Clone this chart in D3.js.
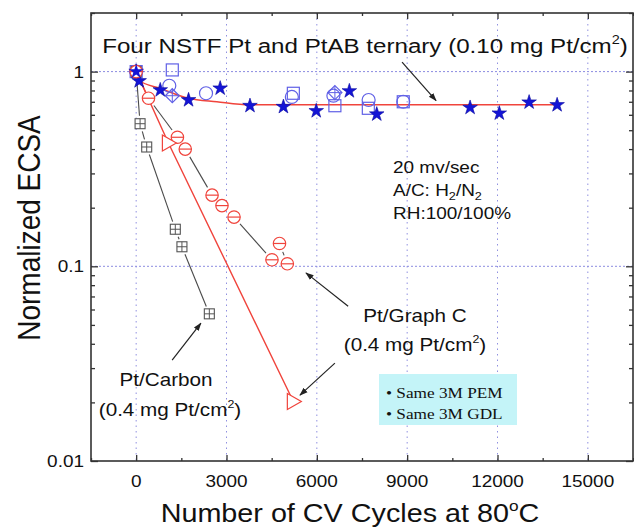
<!DOCTYPE html>
<html><head><meta charset="utf-8">
<script src="https://cdn.jsdelivr.net/npm/d3@7"></script>
<style>body{margin:0;background:#fff} svg{display:block}</style>
</head><body><svg id="c" width="634" height="529"></svg>
<script>
// ---------- data ----------
const xTicks = [0, 3000, 6000, 9000, 12000, 15000];
const xMinorTicks = [-1500, 1500, 4500, 7500, 10500, 13500, 16500];
const yTicks = [0.01, 0.1, 1];
const yTickLabels = ["0.01", "0.1", "1"];

// Pt/Carbon (0.4 mg Pt/cm2)
const carbonX = [0, 130, 350, 1300, 1520, 2430];
const carbonY = [1, 0.54, 0.41, 0.155, 0.126, 0.057];

// Pt/Graph C (0.4 mg Pt/cm2) - circles
const graphX = [0, 410, 1370, 1630, 2520, 2850, 3250, 4510, 4760, 5020];
const graphY = [1, 0.73, 0.46, 0.40, 0.232, 0.205, 0.179, 0.108, 0.131, 0.103];

// Pt/Graph C - triangles
const triX = [0, 1070, 5220];
const triY = [1, 0.43, 0.0202];

// NSTF series
const starX = [0, 100, 800, 1740, 2790, 3780, 4890, 5980, 7080, 7990, 11090, 12060, 13050, 13980];
const starY = [1.0, 0.895, 0.804, 0.715, 0.821, 0.668, 0.660, 0.628, 0.795, 0.604, 0.653, 0.611, 0.696, 0.674];
const sqX = [0, 1200, 5220, 6600, 7710, 8870];
const sqY = [1, 1.02, 0.774, 0.668, 0.648, 0.70];
const circX = [0, 1100, 2320, 5170, 6550, 7720, 8870];
const circY = [1, 0.846, 0.774, 0.741, 0.752, 0.715, 0.70];
const diaX = [0, 1200, 6600];
const diaY = [1, 0.752, 0.78];
// NSTF fit line
const fitX = [0, 100, 800, 1730, 2680, 3780, 8000, 14000];
const fitY = [1, 0.9, 0.82, 0.73, 0.70, 0.675, 0.675, 0.675];

// ---------- setup ----------
const M = {l: 91, r: 633, t: 13, b: 461};
const x = d3.scaleLinear().domain([-1500, 16500]).range([M.l, M.r]);
const y = d3.scaleLog().domain([0.01, 2]).range([M.b, M.t]);
const svg = d3.select("#c");
const FONT = "'Liberation Sans', Arial, sans-serif";
const SX = 1.15; // horizontal stretch of the original picture

const zip = (a, b) => a.map((v, i) => [v, b[i]]);
const RED = "#f0443c", GRAYL = "#4a4a4a", STAR = "#1414d6", OPEN = "#6060e6";

// grid
const grid = svg.append("g");
grid.selectAll("line.v").data(xTicks).join("line")
  .attr("x1", d => x(d)).attr("x2", d => x(d)).attr("y1", M.t).attr("y2", M.b)
  .attr("stroke", "#9090e0").attr("stroke-width", 1).attr("stroke-dasharray", "1.5,4");
grid.selectAll("line.h").data([0.1, 1]).join("line")
  .attr("y1", d => y(d)).attr("y2", d => y(d)).attr("x1", M.l).attr("x2", M.r)
  .attr("stroke", "#8c8ce0").attr("stroke-width", 1).attr("stroke-dasharray", "2,2");

// axes (ticks inward)
const axB = d3.axisBottom(x).tickValues(xTicks).tickSize(-6).tickFormat("");
const axT = d3.axisTop(x).tickValues(xTicks).tickSize(-6).tickFormat("");
const axBm = d3.axisBottom(x).tickValues(xMinorTicks).tickSize(-3).tickFormat("");
const axTm = d3.axisTop(x).tickValues(xMinorTicks).tickSize(-3).tickFormat("");
const minorY = [];
[0.01, 0.1, 1].forEach(d => { for (let k = 2; k <= 9; k++) { const v = d * k; if (v <= 2) minorY.push(v); } });
const axL = d3.axisLeft(y).tickValues(yTicks).tickSize(-7).tickFormat("");
const axR = d3.axisRight(y).tickValues(yTicks).tickSize(-7).tickFormat("");
const axLm = d3.axisLeft(y).tickValues(minorY).tickSize(-4).tickFormat("");
const axRm = d3.axisRight(y).tickValues(minorY).tickSize(-4).tickFormat("");
function styleAx(g) { g.select(".domain").remove(); g.selectAll("line").attr("stroke", "#333").attr("stroke-width", 1.3); }
svg.append("g").attr("transform", `translate(0,${M.b})`).call(axB).call(styleAx);
svg.append("g").attr("transform", `translate(0,${M.b})`).call(axBm).call(styleAx);
svg.append("g").attr("transform", `translate(0,${M.t})`).call(axT).call(styleAx);
svg.append("g").attr("transform", `translate(0,${M.t})`).call(axTm).call(styleAx);
svg.append("g").attr("transform", `translate(${M.l},0)`).call(axL).call(styleAx);
svg.append("g").attr("transform", `translate(${M.l},0)`).call(axLm).call(styleAx);
svg.append("g").attr("transform", `translate(${M.r},0)`).call(axR).call(styleAx);
svg.append("g").attr("transform", `translate(${M.r},0)`).call(axRm).call(styleAx);
svg.append("rect").attr("x", M.l).attr("y", M.t).attr("width", M.r - M.l).attr("height", M.b - M.t)
  .attr("fill", "none").attr("stroke", "#333").attr("stroke-width", 1.6);

// text helper with horizontal stretch around anchor
function txt(px, py, size, anchor, fam) {
  return svg.append("text").attr("x", px).attr("y", py)
    .attr("font-family", fam || FONT).attr("font-size", size).attr("text-anchor", anchor || "start")
    .attr("fill", "#111")
    .attr("transform", `translate(${px},${py}) scale(${SX},1) translate(${-px},${-py})`);
}

// tick labels
xTicks.forEach(d => txt(x(d), 487, 16.5, "middle").text(d));
yTicks.forEach((d, i) => txt(84, y(d) + 6, 16.5, "end").text(yTickLabels[i]));

// axis titles
const xl = txt(350, 522, 25, "middle");
xl.append("tspan").text("Number of CV Cycles at 80");
xl.append("tspan").attr("font-size", 15).attr("dy", -11).text("o");
xl.append("tspan").attr("dy", 11).text("C");
svg.append("text").attr("font-family", FONT).attr("font-size", 28).attr("fill", "#111")
  .attr("text-anchor", "middle")
  .attr("transform", `translate(40,228) scale(${SX},1) rotate(-90)`)
  .text("Normalized ECSA");

// ---------- lines ----------
const line = d3.line().x(d => x(d[0])).y(d => y(d[1]));
function gapped(xs, ys, gap, color, from) {
  const pts = zip(xs, ys).map(d => [x(d[0]), y(d[1])]);
  for (let i = from; i < pts.length - 1; i++) {
    const [x1, y1] = pts[i], [x2, y2] = pts[i + 1];
    const L = Math.hypot(x2 - x1, y2 - y1);
    if (L < 2 * gap + 1) continue;
    const ux = (x2 - x1) / L, uy = (y2 - y1) / L;
    svg.append("line").attr("x1", x1 + ux * gap).attr("y1", y1 + uy * gap)
      .attr("x2", x2 - ux * gap).attr("y2", y2 - uy * gap)
      .attr("stroke", color).attr("stroke-width", 1.1);
  }
}
gapped(carbonX, carbonY, 8, GRAYL, 0);
svg.append("path").attr("d", line(zip(graphX, graphY).slice(0, 2))).attr("fill", "none").attr("stroke", RED).attr("stroke-width", 1.3);
gapped(graphX, graphY, 9, GRAYL, 1);
svg.append("path").attr("d", line(zip(triX, triY))).attr("fill", "none").attr("stroke", RED).attr("stroke-width", 1.4);
svg.append("path").attr("d", d3.line().x(d => x(d[0])).y(d => y(d[1])).curve(d3.curveMonotoneX)(zip(fitX, fitY)))
  .attr("fill", "none").attr("stroke", RED).attr("stroke-width", 1.5);

// ---------- markers ----------
const gm = svg.append("g");
gm.selectAll("rect.sq").data(zip(sqX, sqY)).join("rect")
  .attr("x", d => x(d[0]) - 6).attr("y", d => y(d[1]) - 6).attr("width", 12).attr("height", 12)
  .attr("fill", "none").attr("stroke", OPEN).attr("stroke-width", 1.2);
gm.selectAll("circle.ci").data(zip(circX, circY)).join("circle")
  .attr("cx", d => x(d[0])).attr("cy", d => y(d[1])).attr("r", 6.5)
  .attr("fill", "none").attr("stroke", OPEN).attr("stroke-width", 1.2);
const dg = gm.selectAll("g.di").data(zip(diaX, diaY)).join("g")
  .attr("transform", d => `translate(${x(d[0])},${y(d[1])})`);
dg.append("path").attr("d", "M0,-7L7,0L0,7L-7,0Z").attr("fill", "none").attr("stroke", OPEN).attr("stroke-width", 1.2);
dg.append("path").attr("d", "M0,-7V7M-7,0H7").attr("stroke", OPEN).attr("stroke-width", 1);
gm.selectAll("path.st").data(zip(starX, starY)).join("path")
  .attr("transform", d => `translate(${x(d[0])},${y(d[1])})`)
  .attr("d", d3.symbol(d3.symbolStar, 66)).attr("fill", STAR).attr("stroke", "#0a0aa0").attr("stroke-width", 0.6);
const cg = gm.selectAll("g.cb").data(zip(carbonX, carbonY)).join("g")
  .attr("transform", d => `translate(${x(d[0])},${y(d[1])})`);
cg.append("rect").attr("x", -5).attr("y", -5).attr("width", 10).attr("height", 10)
  .attr("fill", "#fff").attr("stroke", "#555").attr("stroke-width", 1.1);
cg.append("path").attr("d", "M0,-5V5M-5,0H5").attr("stroke", "#555").attr("stroke-width", 1);
const gg = gm.selectAll("g.gc").data(zip(graphX, graphY)).join("g")
  .attr("transform", d => `translate(${x(d[0])},${y(d[1])})`);
gg.append("circle").attr("r", 6.2).attr("fill", "#fff").attr("stroke", RED).attr("stroke-width", 1.2);
gg.append("path").attr("d", "M-6.2,0H6.2").attr("stroke", RED).attr("stroke-width", 1.2);
gm.selectAll("path.tr").data(zip(triX, triY).slice(1)).join("path")
  .attr("transform", d => `translate(${x(d[0])},${y(d[1])})`)
  .attr("d", "M-6,-8L8,0L-6,8Z").attr("fill", "#fff").attr("stroke", RED).attr("stroke-width", 1.2);
gm.append("path").attr("transform", `translate(${x(starX[0])},${y(starY[0])})`)
  .attr("d", d3.symbol(d3.symbolStar, 66)).attr("fill", STAR);

// ---------- annotations ----------
svg.append("defs").append("marker").attr("id", "ah").attr("viewBox", "0 0 10 10")
  .attr("refX", 9).attr("refY", 5).attr("markerWidth", 7).attr("markerHeight", 7).attr("orient", "auto")
  .append("path").attr("d", "M0,1.5L10,5L0,8.5Z").attr("fill", "#222");
function arrow(x1, y1, x2, y2) {
  svg.append("line").attr("x1", x(x1)).attr("y1", y(y1)).attr("x2", x(x2)).attr("y2", y(y2))
    .attr("stroke", "#222").attr("stroke-width", 1.2).attr("marker-end", "url(#ah)");
}
arrow(8830, 1.12, 9960, 0.71);
arrow(7040, 0.0624, 5640, 0.0925);
arrow(6600, 0.0318, 5440, 0.0218);
arrow(1195, 0.033, 2150, 0.051);

function supText(px, py, size, anchor, main, sup, tail) {
  const e = txt(px, py, size, anchor);
  e.append("tspan").text(main);
  e.append("tspan").attr("font-size", size * 0.6).attr("dy", -size * 0.42).text(sup);
  e.append("tspan").attr("dy", size * 0.42).text(tail);
  return e;
}
supText(365, 53, 21, "middle", "Four NSTF Pt and PtAB ternary (0.10 mg Pt/cm", "2", ")");
txt(415, 322, 18, "middle").text("Pt/Graph C");
supText(415, 351, 18, "middle", "(0.4 mg Pt/cm", "2", ")");
txt(166, 386, 18, "middle").text("Pt/Carbon");
supText(170, 416, 18, "middle", "(0.4 mg Pt/cm", "2", ")");

txt(393, 173, 16.5, "start").text("20 mv/sec");
const ac = txt(393, 196, 16.5, "start");
ac.append("tspan").text("A/C: H");
ac.append("tspan").attr("font-size", 11).attr("dy", 4).text("2");
ac.append("tspan").attr("dy", -4).text("/N");
ac.append("tspan").attr("font-size", 11).attr("dy", 4).text("2");
txt(393, 219, 16.5, "start").text("RH:100/100%");

svg.append("rect").attr("x", 379).attr("y", 374).attr("width", 138).attr("height", 51).attr("fill", "#c4f4f8");
txt(386, 398, 15, "start", "'Liberation Serif', 'Times New Roman', serif").text("• Same 3M PEM");
txt(386, 419, 15, "start", "'Liberation Serif', 'Times New Roman', serif").text("• Same 3M GDL");
</script></body></html>
